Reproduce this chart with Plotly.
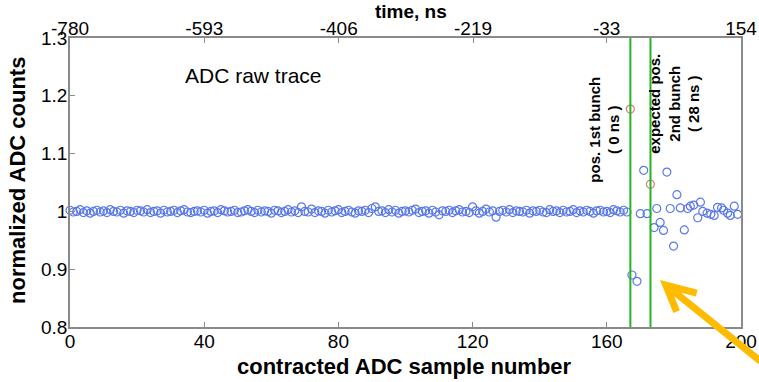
import plotly.graph_objects as go

# ---- data ----
baseline_y = [
    1.002, 0.999, 1.000, 1.003, 0.998, 1.001, 0.997, 1.000, 1.002, 0.999,
    1.001, 0.998, 1.003, 1.000, 0.999, 1.002, 0.997, 1.001, 1.000, 0.998,
    1.002, 1.001, 0.999, 1.003, 0.998, 1.000, 1.001, 0.997, 1.002, 0.999,
    1.000, 1.002, 0.998, 1.001, 1.003, 0.999, 0.998, 1.000, 1.001, 0.999,
    1.002, 0.997, 1.000, 1.001, 0.998, 1.003, 1.001, 0.999, 1.000, 1.002,
    0.998, 0.999, 1.001, 1.003, 1.000, 0.998, 1.002, 0.999, 1.001, 1.000,
    0.997, 1.002, 1.001, 0.998, 1.000, 1.003, 0.999, 1.001, 0.998, 1.008,
    1.000, 0.999, 1.004, 0.998, 1.001, 1.000, 0.997, 1.002, 0.999, 1.001,
    1.003, 0.998, 1.000, 1.002, 0.999, 0.997, 1.001, 1.000, 1.002, 0.998,
    1.005, 1.008, 1.000, 1.001, 0.998, 1.003, 0.999, 1.002, 0.997, 1.000,
    1.001, 0.999, 1.002, 1.004, 0.998, 1.000, 1.001, 0.997, 1.002, 0.999,
    0.994, 1.001, 1.000, 1.002, 0.998, 1.001, 1.003, 0.999, 1.000, 0.998,
    1.008, 1.001, 0.997, 1.000, 1.004, 0.999, 1.001, 0.990, 1.000, 1.002,
    0.999, 1.003, 0.998, 1.001, 1.000, 0.999, 1.002, 0.997, 1.001, 1.000,
    1.002, 0.999, 0.998, 1.003, 1.000, 1.001, 0.998, 1.002, 0.999, 1.000,
    1.003, 0.998, 1.001, 0.999, 1.002, 1.000, 0.997, 1.001, 1.002, 0.999,
    1.000, 0.998, 1.003, 1.001, 0.999, 1.002, 0.999,
]
baseline_x = list(range(len(baseline_y)))

tail_x = [167.5, 169, 170, 171, 172, 174.1, 174.9, 175.9, 176.9, 177.9,
          178.9, 179.9, 180.9, 181.9, 183.1, 184.1, 184.9, 185.9, 187.1, 187.9,
          188.6, 189.9, 191, 192, 193, 194.2, 194.8, 196, 196.8, 198, 199]
tail_y = [0.890, 0.879, 0.996, 1.071, 0.996, 0.972, 1.005, 0.981, 0.967, 1.068,
          1.005, 0.940, 1.029, 1.006, 0.968, 1.005, 1.009, 1.011, 0.989, 1.016,
          1.000, 0.997, 0.995, 0.993, 1.007, 1.006, 1.002, 0.997, 0.993, 1.009,
          0.995]

bunch_x = [167, 173]
bunch_y = [1.177, 1.047]

bunch_time_ns = [0, 28]

x_ticks = [0, 40, 80, 120, 160, 200]
y_ticks = [0.8, 0.9, 1.0, 1.1, 1.2, 1.3]
y_tick_text = ["0.8", "0.9", "1", "1.1", "1.2", "1.3"]
time_ticks = [-780, -593, -406, -219, -33, 154]
time_tick_text = ["-780", "-593", "-406", "-219", "-33", "154"]

FONT = "Liberation Sans, Arial, sans-serif"
BLUE = "#5a78e8"
RED = "#e07a7a"
GREEN = "#22b522"
AXC = "#8a8a8a"

fig = go.Figure()

fig.add_trace(go.Scatter(
    x=baseline_x + tail_x, y=baseline_y + tail_y, mode="markers",
    marker=dict(symbol="circle-open", size=8, color=BLUE, line=dict(width=1.2)),
    showlegend=False, cliponaxis=False))
fig.add_trace(go.Scatter(
    x=bunch_x, y=bunch_y, mode="markers",
    marker=dict(symbol="circle-open", size=8, color=RED, line=dict(width=1.2)),
    showlegend=False))

for t in bunch_time_ns:
    fig.add_trace(go.Scatter(
        x=[t, t], y=[y_ticks[0], y_ticks[-1]], mode="lines", xaxis="x2",
        line=dict(color=GREEN, width=2), showlegend=False, hoverinfo="skip"))

common = dict(ticks="inside", ticklen=5, tickcolor=AXC, showline=True,
              linecolor=AXC, linewidth=1.5, showgrid=False, zeroline=False,
              tickfont=dict(size=19), automargin=False)

fig.update_layout(
    width=759, height=382,
    margin=dict(l=70, r=18, t=38, b=55, autoexpand=False),
    paper_bgcolor="white", plot_bgcolor="white",
    font=dict(family=FONT, color="black", size=19),
    xaxis=dict(range=[0, 200], tickvals=x_ticks, ticklabelstandoff=-4, **common),
    xaxis2=dict(range=[time_ticks[0], time_ticks[-1]], tickvals=time_ticks,
                ticktext=time_tick_text, overlaying="x", side="top",
                ticklabelstandoff=-6, **common),
    yaxis=dict(range=[0.8, 1.3], tickvals=y_ticks, ticktext=y_tick_text,
               mirror=True, ticklabelstandoff=-3, **common),
)

ann = [
    dict(text="ADC raw trace", x=54.6, y=1.235, xref="x", yref="y",
         showarrow=False, font=dict(size=21)),
    dict(text="<b>pos. 1st bunch<br>( 0 ns )</b>", x=159.4, y=1.141,
         xref="x", yref="y", textangle=-90, showarrow=False,
         font=dict(size=15)),
    dict(text="<b>expected pos.<br>2nd bunch<br>( 28 ns )</b>", x=180.0,
         y=1.186, xref="x", yref="y", textangle=-90, showarrow=False,
         font=dict(size=15)),
    dict(text="<b>normalized ADC counts</b>", x=-0.0775, y=0.509,
         xref="paper", yref="paper", textangle=-90, showarrow=False,
         xanchor="center", yanchor="middle", font=dict(size=22)),
    dict(text="<b>contracted ADC sample number</b>", x=0.499, y=-0.138,
         xref="paper", yref="paper", showarrow=False,
         xanchor="center", yanchor="middle", font=dict(size=22)),
    dict(text="<b>time, ns</b>", x=0.508, y=1.09, xref="paper", yref="paper",
         showarrow=False, xanchor="center", yanchor="middle",
         font=dict(size=19)),
]
fig.update_layout(annotations=ann)

ORANGE = "#FFBB00"
fig.add_shape(type="path", xref="paper", yref="paper",
              path="M 1.073 -0.2 L 0.888 0.145 M 0.934 0.117 L 0.888 0.145 L 0.904 0.053",
              line=dict(color=ORANGE, width=7))

fig.write_html("out.html")
